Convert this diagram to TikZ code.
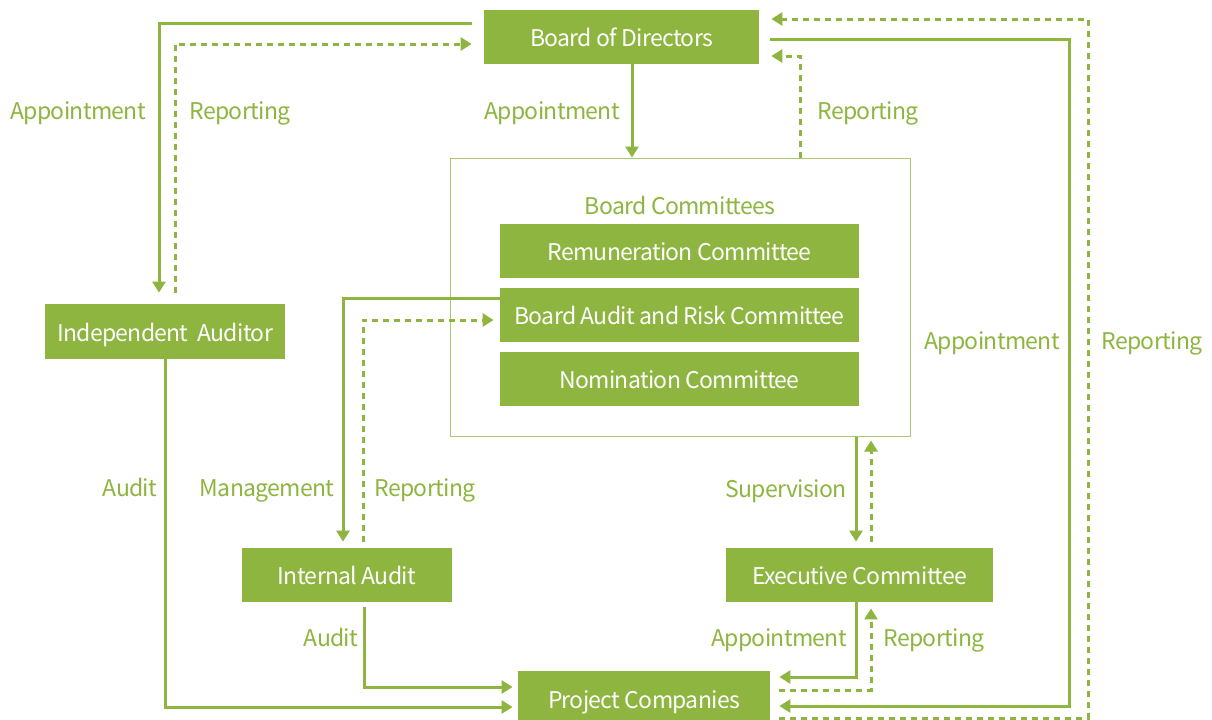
\documentclass[tikz,border=0pt]{standalone}
\usepackage{fontspec}
\setmainfont[LetterSpace=-3]{Noto Sans CJK KR}
\usetikzlibrary{calc,arrows.meta}
\definecolor{leaf}{HTML}{8DB53F}
\definecolor{leaflight}{HTML}{A9CB6F}
\tikzset{
  govbox/.style={fill=leaf, text=white, inner sep=0pt, minimum height=27pt, text height=12pt, text depth=2.5pt},
  govlabel/.style={text=leaf, inner sep=0pt, text height=12pt, text depth=2.5pt},
  solidlink/.style={draw=leaf, line width=1.5pt, -{Triangle[length=5.5pt,width=6.5pt]}},
  dashlink/.style={draw=leaf, line width=1.5pt, dash pattern=on 3pt off 2.5pt, -{Triangle[length=5.5pt,width=6.5pt]}}
}

\begin{document}
\begin{tikzpicture}[x=0.5pt, y=-0.5pt, font=\fontsize{11.5}{14}\selectfont]
			%%%%% START %%%%%
			\useasboundingbox (0,0) rectangle (1212,719);
			
			\node[draw=leaflight, line width=0.5pt, minimum width=230pt, minimum height=139pt] (bc) at (680,297) {};
			\node[govlabel] (bclabel) at (680,205) {Board Committees};
			
			\node[govbox, minimum width=137.5pt] (bod) at (621.5,37) {Board of Directors};
			\node[govbox, minimum width=179.5pt] (rem) at (679.5,251) {Remuneration Committee};
			\node[govbox, minimum width=179.5pt] (bar) at (679.5,315) {Board Audit and Risk Committee};
			\node[govbox, minimum width=179.5pt] (nom) at (679.5,378.5) {Nomination Committee};
			\node[govbox, minimum width=120pt, minimum height=27.5pt] (ia) at (165,331.5) {Independent\ \ Auditor};
			\node[govbox, minimum width=105pt] (iau) at (347,575) {Internal Audit};
			\node[govbox, minimum width=133.5pt] (ec) at (859.5,575) {Executive Committee};
			\node[govbox, minimum width=126pt, minimum height=27.5pt] (pc) at (644,698.5) {Project Companies};
			
			% board of directors and independent auditor
			\draw[solidlink] ($(bod.west)+(-12,-14)$) -| ($(ia.north)+(-6,-11)$);
			\draw[dashlink] ($(ia.north)+(10,-11)$) |- ($(bod.west)+(-12,7)$);
			
			% board of directors and committees
			\coordinate (bodapp) at ($(bod.south)+(10.5,0)$);
			\draw[solidlink] (bodapp) -- (bodapp |- bc.north);
			\draw[dashlink] ($(bc.north)+(120,0)$) |- ($(bod.east)+(12,19)$);
			
			% board of directors and project companies
			\draw[solidlink] ($(bod.east)+(11,2)$) -- ++(299,0) |- ($(pc.east)+(9,7.5)$);
			\draw[dashlink] ($(pc.east)+(9,19.5)$) -- ++(309,0) |- ($(bod.east)+(12,-18)$);
			
			% committees and executive committee
			\draw[solidlink] ($(bc.south)+(176,0)$) -- ($(ec.north)+(-3.5,-6)$);
			\draw[dashlink] ($(ec.north)+(11.5,-6)$) -- ($(bc.south)+(191,4)$);
			
			% executive committee and project companies
			\draw[solidlink] ($(ec.south)+(-3.5,0)$) |- ($(pc.east)+(9,-21.5)$);
			\draw[dashlink] ($(pc.east)+(9,-8.5)$) -| ($(ec.south)+(11.5,6)$);
			
			% audits
			\draw[solidlink] (ia.south) |- ($(pc.west)+(-5,8.5)$);
			\draw[solidlink] ($(iau.south)+(17,5)$) |- ($(pc.west)+(-5,-11.5)$);
			\draw[solidlink] ($(bar.west)+(0,-17)$) -| ($(iau.north)+(-4,-6)$);
			\draw[dashlink] ($(iau.north)+(16,-6)$) |- ($(bar.west)+(-6,5)$);
			
			\node[govlabel] (l1) at (78,110) {Appointment};
			\node[govlabel] (l2) at (240,110) {Reporting};
			\node[govlabel] (l3) at (552,110) {Appointment};
			\node[govlabel] (l4) at (868,110) {Reporting};
			\node[govlabel] (l5) at (992,340) {Appointment};
			\node[govlabel] (l6) at (1152,340) {Reporting};
			\node[govlabel] (l7) at (130,487) {Audit};
			\node[govlabel] (l8) at (267,487) {Management};
			\node[govlabel] (l9) at (425,487) {Reporting};
			\node[govlabel] (l10) at (786,488) {Supervision};
			\node[govlabel] (l11) at (331,637) {Audit};
			\node[govlabel] (l12) at (779,637) {Appointment};
			\node[govlabel] (l13) at (934,637) {Reporting};
			%%%%% END %%%%%
\end{tikzpicture}
\end{document}
